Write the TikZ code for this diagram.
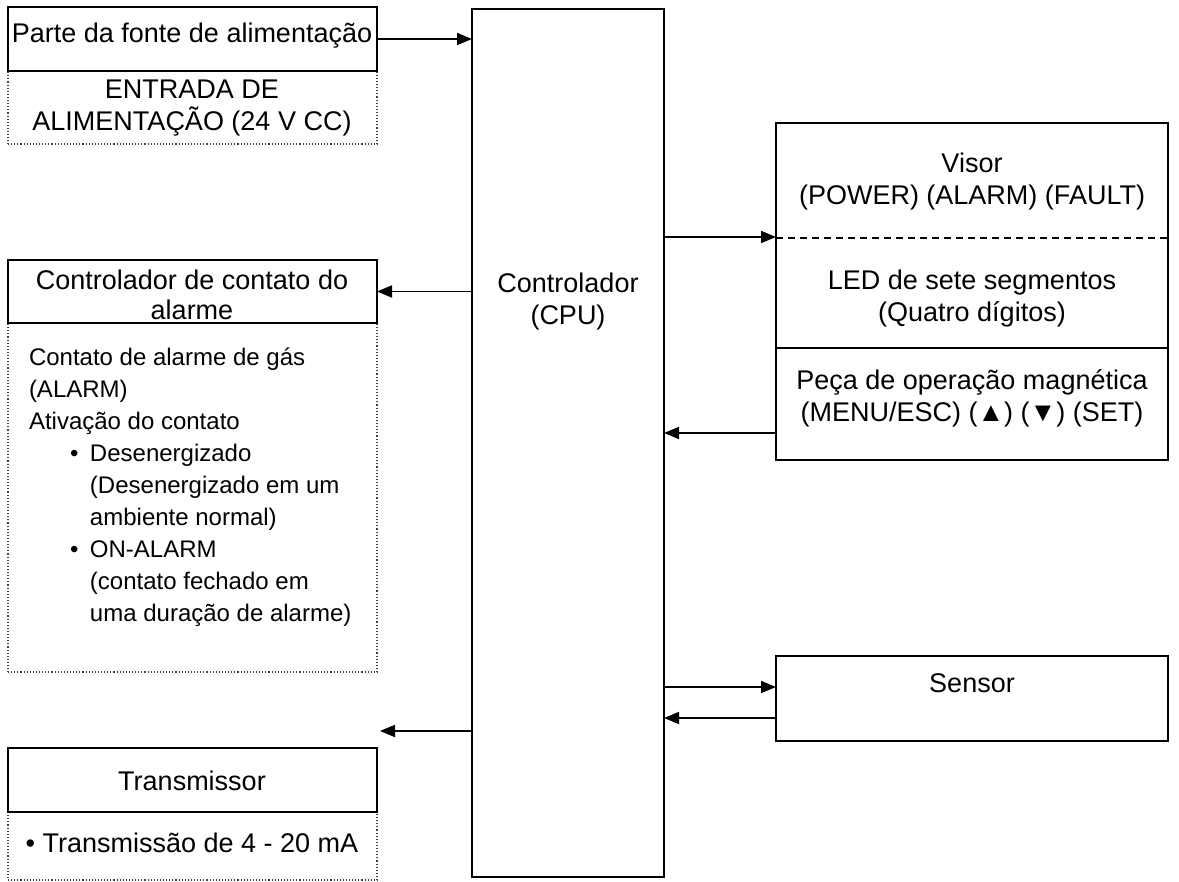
\documentclass[tikz,border=0pt]{standalone}
\usepackage{fontspec}
\setmainfont{Liberation Sans}
\usetikzlibrary{arrows.meta}
\begin{document}
\begin{tikzpicture}[x=1pt,y=-1pt,
  every node/.style={inner sep=0pt,outer sep=0pt,font=\fontsize{27}{32}\selectfont},
  solidbox/.style={draw,line width=1.8pt,anchor=north west},
  dotbox/.style={draw=black!75,dotted,line width=1.1pt,anchor=north west},
  txt/.style={align=center},
  arr/.style={line width=1.8pt,-{Triangle[length=15pt,width=12pt]}}]
\useasboundingbox (0,0) rectangle (1179,882);
% boxes
\node[dotbox,minimum width=369pt,minimum height=73pt] (powerin) at (8,71) {};
\node[dotbox,minimum width=369pt,minimum height=349pt] (alarmdet) at (8,323) {};
\node[dotbox,minimum width=369pt,minimum height=68pt] (txdet) at (8,812) {};
\node[solidbox,minimum width=369pt,minimum height=64pt] (power) at (8,7) {};
\node[solidbox,minimum width=192pt,minimum height=868pt] (ctrl) at (472,9) {};
\node[solidbox,minimum width=369pt,minimum height=63pt] (alarm) at (8,260) {};
\node[solidbox,minimum width=369pt,minimum height=64pt] (tx) at (8,748) {};
\node[solidbox,minimum width=392pt,minimum height=337pt] (disp) at (776,123) {};
\node[solidbox,minimum width=392pt,minimum height=85pt] (sensor) at (776,656) {};
\draw[line width=1.1pt,dash pattern=on 7pt off 5pt] ([yshift=-115pt]disp.north west) -- ([yshift=-115pt]disp.north east);
\draw[line width=1.8pt] ([yshift=-225pt]disp.north west) -- ([yshift=-225pt]disp.north east);
% texts
\node[txt] (powertxt) at (192,36) {Parte da fonte de alimentação};
\node[txt] (powerintxt) at (192,108) {ENTRADA DE\\ALIMENTAÇÃO (24 V CC)};
\node[txt] (ctrltxt) at (568,302) {Controlador\\(CPU)};
\node[txt,anchor=south] (alarmtxt) at (192,320) {Controlador de contato do\\[-2pt]alarme};
\node[align=left,anchor=north west,font=\fontsize{24}{32}\selectfont] (alarmdettxt) at (29,348) {Contato de alarme de gás\\(ALARM)\\Ativação do contato\\
\hspace*{41pt}\makebox[20pt][l]{•}Desenergizado\\
\hspace*{61pt}(Desenergizado em um\\
\hspace*{61pt}ambiente normal)\\
\hspace*{41pt}\makebox[20pt][l]{•}ON-ALARM\\
\hspace*{61pt}(contato fechado em\\
\hspace*{61pt}uma duração de alarme)};
\node[txt] (txtxt) at (192,781) {Transmissor};
\node[txt] (txdettxt) at (192,843) {• Transmissão de 4 - 20 mA};
\node[txt] (visortxt) at (972,182) {Visor\\(POWER) (ALARM) (FAULT)};
\node[txt] (ledtxt) at (972,299) {LED de sete segmentos\\(Quatro dígitos)};
\node[txt] (pecatxt) at (972,398) {Peça de operação magnética\\(MENU/ESC) (▲) (▼) (SET)};
\node[txt] (sensortxt) at (972,683) {Sensor};
% connector points
\coordinate (dispin) at (776,237);
\coordinate (dispout) at (776,433);
\coordinate (sensin) at (776,687);
\coordinate (sensout) at (776,718);
\coordinate (txin) at (380,731);
% connectors
\draw[arr] (power.east) -- (ctrl.west |- power.east);
\draw[arr] (ctrl.west |- alarm.east) -- (alarm.east);
\draw[arr] (ctrl.west |- txin) -- (txin);
\draw[arr] (ctrl.east |- dispin) -- (dispin);
\draw[arr] (dispout) -- (ctrl.east |- dispout);
\draw[arr] (ctrl.east |- sensin) -- (sensin);
\draw[arr] (sensout) -- (ctrl.east |- sensout);
\end{tikzpicture}
\end{document}
